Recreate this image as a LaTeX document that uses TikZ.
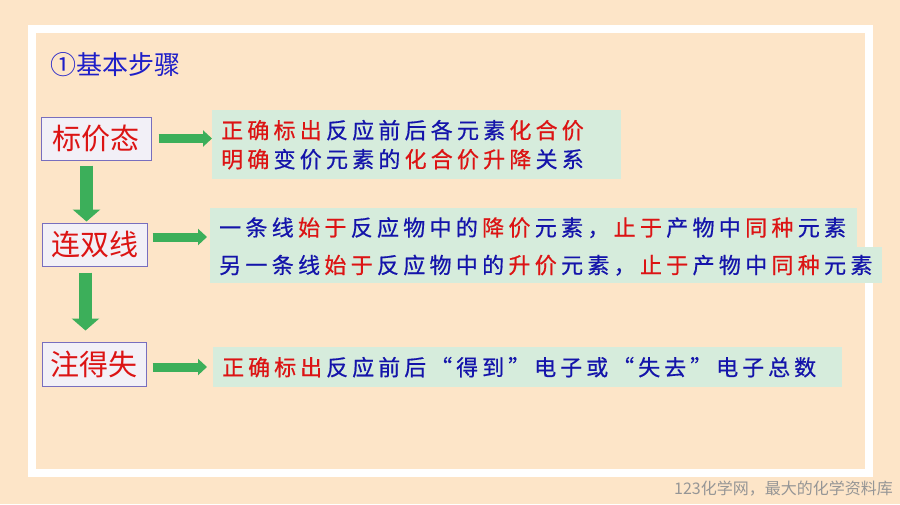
\documentclass[tikz,border=0pt]{standalone}
\usepackage{fontspec}
\newfontfamily\cjk{Noto Sans CJK SC}
\newfontfamily\cjkheavy[FakeBold=0.6]{Noto Sans CJK SC}
\usetikzlibrary{arrows.meta}

\definecolor{bgorange}{RGB}{253,229,200}
\definecolor{notefill}{RGB}{214,236,220}
\definecolor{boxfill}{RGB}{242,240,247}
\definecolor{boxline}{RGB}{120,110,190}
\definecolor{hlred}{RGB}{220,20,20}
\definecolor{txtblue}{RGB}{20,20,170}
\definecolor{titleblue}{RGB}{30,30,200}
\definecolor{arrowgreen}{RGB}{60,175,90}
\definecolor{markgray}{RGB}{150,150,150}

% spaced Chinese text: blue (\bl) and red (\rd) runs
\newlength{\cjkgap}
\ExplSyntaxOn
\NewDocumentCommand{\bl}{m}{\tl_map_inline:nn{#1}{##1\nobreak\hskip\cjkgap}}
\ExplSyntaxOff
\newcommand{\rd}[1]{{\color{hlred}\bl{#1}}}

\begin{document}
\begin{tikzpicture}[x=1pt, y=-1pt,
  stepbox/.style={draw=boxline, line width=1pt, fill=boxfill, text=hlred,
    font=\cjk\fontsize{29}{32}\selectfont, minimum height=43pt, inner sep=0pt},
  notebox/.style={fill=notefill, text=txtblue, font=\cjkheavy\fontsize{22}{29}\selectfont,
    anchor=north west, align=left, inner xsep=9pt, inner ysep=0pt,
    execute at begin node={\setlength{\cjkgap}{#1}\hbadness=10000\hfuzz=100pt}},
  rarrow/.style={line width=9pt, arrowgreen, -{Triangle[length=9pt,width=16pt]}},
  darrow/.style={line width=13pt, arrowgreen, -{Triangle[length=12pt,width=27pt]}}]

% Slide background and white frame
\fill[bgorange] (0,0) rectangle (900,504);
\draw[white, line width=8pt] (32,29) rectangle (868.5,473);
\useasboundingbox (0,0) rectangle (900,504);

% Title
\node[anchor=west, text=titleblue, font=\cjk\fontsize{26}{30}\selectfont, inner sep=0pt] (title) at (50,65) {①基本步骤};

% Steps
\node[stepbox, minimum width=110pt] (lbl1) at (96,138.5) {标价态};
\node[stepbox, minimum width=105pt] (lbl2) at (94.5,244.5) {连双线};
\node[stepbox, minimum width=104pt, minimum height=44pt] (lbl3) at (94,364) {注得失};

% Notes
\node[notebox=4.2pt, text width=391pt, minimum height=69pt] (txt1) at (212,110)
  {\rd{正确标出}\bl{反应前后各元素}\rd{化合价}\\\rd{明确}\bl{变价元素的}\rd{化合价升降}\bl{关系}};
\node[notebox=4.3pt, text width=629pt, minimum height=39pt] (txt2a) at (210,208)
  {\bl{一条线}\rd{始于}\bl{反应物中的}\rd{降价}\bl{元素，}\rd{止于}\bl{产物中}\rd{同种}\bl{元素}};
\node[notebox=4.3pt, text width=654pt, minimum height=36pt] (txt2b) at (210,247)
  {\bl{另一条线}\rd{始于}\bl{反应物中的}\rd{升价}\bl{元素，}\rd{止于}\bl{产物中}\rd{同种}\bl{元素}};
\node[notebox=4pt, text width=611pt, minimum height=40pt] (txt3) at (213,347)
  {\rd{正确标出}\bl{反应前后“得到”电子或“失去”电子总数}};

% Arrows
\draw[rarrow, shorten <=7pt] (lbl1.east) -- (lbl1.east -| txt1.west);
\draw[rarrow, shorten <=5pt, shorten >=3pt] ([yshift=7.5pt]lbl2.east) coordinate (a2) -- (a2 -| txt2a.west);
\draw[rarrow, shorten <=6pt, shorten >=6pt] ([yshift=-3pt]lbl3.east) coordinate (a3) -- (a3 -| txt3.west);
\draw[darrow, shorten <=5pt, shorten >=1pt] ([xshift=-9.5pt]lbl1.south) coordinate (d1) -- (d1 |- lbl2.north);
\draw[darrow, shorten <=6pt, shorten >=11pt] ([xshift=-9pt]lbl2.south) coordinate (d2) -- (d2 |- lbl3.north);

% Watermark
\node[anchor=east, text=markgray, font=\cjk\fontsize{16}{18}\selectfont, inner sep=0pt] (mark) at (893,489) {123化学网，最大的化学资料库};

\end{tikzpicture}
\end{document}
